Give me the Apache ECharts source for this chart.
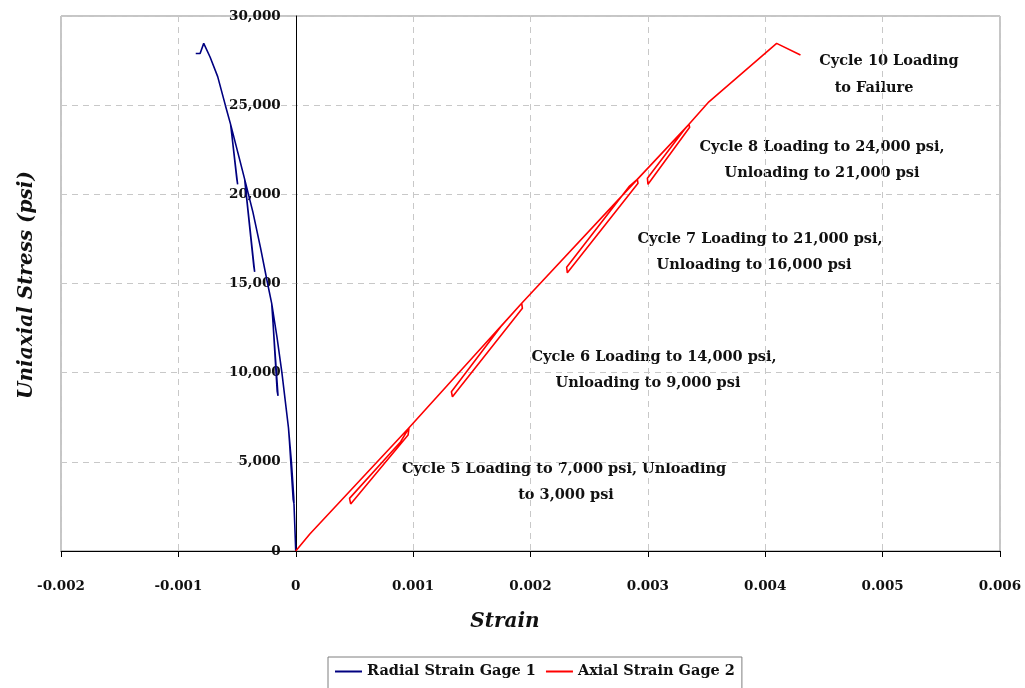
<!DOCTYPE html>
<html>
<head>
<meta charset="utf-8">
<script src="https://cdn.jsdelivr.net/npm/echarts@6/dist/echarts.min.js"></script>
<style>
html,body{margin:0;padding:0;background:#fff;}
#c{width:1025px;height:688px;}
</style>
</head>
<body>
<div id="c"></div>
<script>
const seriesNames = ['Radial Strain Gage 1', 'Axial Strain Gage 2'];

const radialStrain = [0, -0.000017, -0.000037, -0.000062, -0.000015, -0.000022, -0.000058, -0.000062,
  -0.000118, -0.00016, -0.000205, -0.000151, -0.000158, -0.0002, -0.000205,
  -0.00024, -0.0003, -0.000365, -0.000435, -0.00035, -0.000357, -0.00043, -0.000435,
  -0.00048, -0.000555, -0.000495, -0.000502, -0.00055, -0.000555,
  -0.0006, -0.000665, -0.00073, -0.000784, -0.000815, -0.000852];
const radialStress = [0, 3000, 5000, 6910, 2640, 2900, 6600, 6910,
  10000, 12000, 13890, 8700, 8950, 13500, 13890,
  15000, 17000, 19000, 20840, 15650, 15950, 20500, 20840,
  22000, 23925, 20560, 20850, 23650, 23925,
  25000, 26600, 27700, 28466, 27900, 27900];

const axialStrain = [0, 0.00012, 0.000965, 0.000957, 0.000468, 0.000458, 0.000894, 0.000965,
  0.001925, 0.001931, 0.001335, 0.001326, 0.001746, 0.001925,
  0.00291, 0.002916, 0.002314, 0.002308, 0.002839, 0.00291,
  0.00335, 0.003356, 0.003001, 0.002996, 0.003308, 0.00335,
  0.00352, 0.004097, 0.0043];
const axialStress = [0, 950, 6910, 6500, 2640, 2950, 6130, 6910,
  13890, 13610, 8650, 8930, 12580, 13890,
  20840, 20620, 15600, 15910, 20430, 20840,
  23925, 23757, 20560, 20900, 23610, 23925,
  25190, 28466, 27810];

const annotations = [
  'Cycle 10 Loading', 'to Failure',
  'Cycle 8 Loading to 24,000 psi,', 'Unloading to 21,000 psi',
  'Cycle 7 Loading to 21,000 psi,', 'Unloading to 16,000 psi',
  'Cycle 6 Loading to 14,000 psi,', 'Unloading to 9,000 psi',
  'Cycle 5 Loading to 7,000 psi, Unloading', 'to 3,000 psi'
];
const annotationCenters = [[889, 61], [874, 88], [822, 147], [822, 173], [760, 239], [754, 265],
  [654, 357], [648, 383], [564, 469], [566, 495]];

const FONT = '"DejaVu Serif", "Liberation Serif", serif';

function pairs(xs, ys) { return xs.map((x, i) => [x, ys[i]]); }

const chart = echarts.init(document.getElementById('c'), null, {renderer: 'canvas'});

const graphics = annotations.map((t, i) => ({
  type: 'text',
  x: annotationCenters[i][0],
  y: annotationCenters[i][1],
  style: {text: t, font: 'bold 14.5px ' + FONT, fill: '#111', align: 'center', verticalAlign: 'middle'}
}));
graphics.push({
  type: 'text', x: 505, y: 622,
  style: {text: 'Strain', font: 'italic bold 20px ' + FONT, fill: '#111', align: 'center', verticalAlign: 'middle'}
});
graphics.push({
  type: 'text', x: 27, y: 285, rotation: Math.PI / 2,
  style: {text: 'Uniaxial Stress (psi)', font: 'italic bold 20px ' + FONT, fill: '#111', align: 'center', verticalAlign: 'middle'}
});

chart.setOption({
  animation: false,
  backgroundColor: '#fff',
  grid: {left: 61, right: 25, top: 16, bottom: 137, show: true, borderColor: '#8c8c8c', borderWidth: 1,
    containLabel: false, outerBoundsMode: 'none'},
  legend: {
    data: seriesNames,
    left: 328, top: 657,
    padding: [7, 7, 12, 7],
    borderColor: '#7f7f7f', borderWidth: 1,
    itemWidth: 27, itemHeight: 2, itemGap: 10,
    icon: 'rect',
    textStyle: {fontFamily: FONT, fontWeight: 'bold', fontSize: 14.5, color: '#111'}
  },
  xAxis: {
    type: 'value', min: -0.002, max: 0.006, interval: 0.001,
    axisLine: {onZero: true, lineStyle: {color: '#000', width: 1}},
    axisTick: {show: true, inside: false, length: 6, lineStyle: {color: '#000'}},
    axisLabel: {
      margin: 28, fontFamily: FONT, fontWeight: 'bold', fontSize: 13.5, color: '#111',
      formatter: v => Math.abs(v) < 1e-9 ? '0' : v.toFixed(3)
    },
    splitLine: {show: true, lineStyle: {color: '#c8c8c8', type: [6, 5], width: 1}}
  },
  yAxis: {
    type: 'value', min: 0, max: 30000, interval: 5000,
    offset: -234.75,
    axisLine: {onZero: false, lineStyle: {color: '#000', width: 1}},
    axisTick: {show: false},
    axisLabel: {
      margin: 15, fontFamily: FONT, fontWeight: 'bold', fontSize: 13.5, color: '#111',
      formatter: v => v.toLocaleString('en-US')
    },
    splitLine: {show: true, lineStyle: {color: '#c8c8c8', type: [6, 5], width: 1}}
  },
  series: [
    {
      name: seriesNames[0], type: 'line', data: pairs(radialStrain, radialStress),
      showSymbol: false, symbol: 'none', smooth: false,
      lineStyle: {color: '#000080', width: 1.6}, itemStyle: {color: '#000080'}
    },
    {
      name: seriesNames[1], type: 'line', data: pairs(axialStrain, axialStress),
      showSymbol: false, symbol: 'none', smooth: false,
      lineStyle: {color: '#ff0000', width: 1.6}, itemStyle: {color: '#ff0000'}
    }
  ],
  graphic: graphics
});
</script>
</body>
</html>
